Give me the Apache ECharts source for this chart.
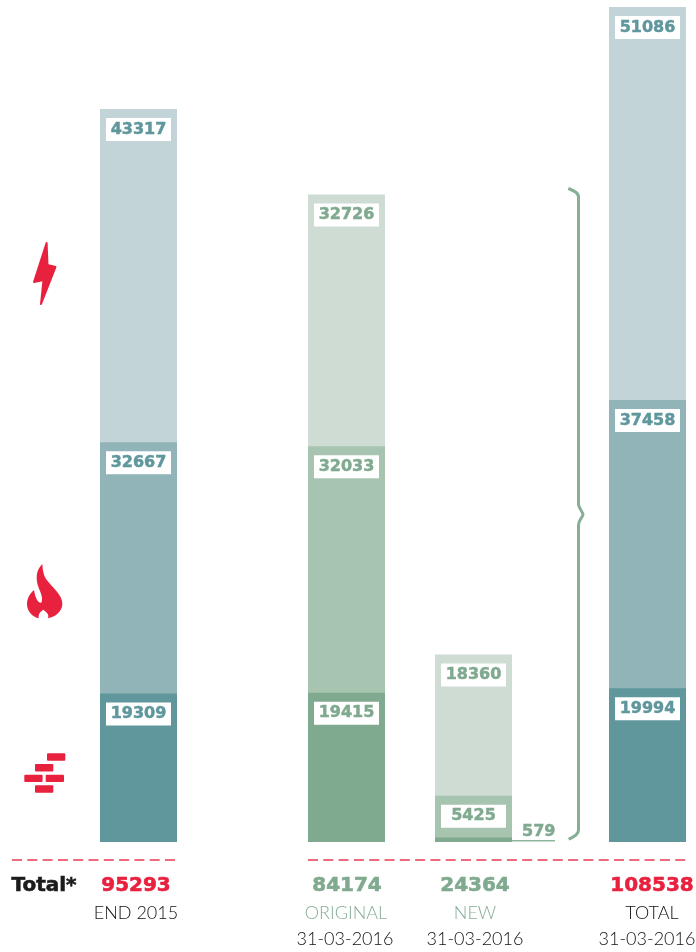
<!DOCTYPE html>
<html>
<head>
<meta charset="utf-8">
<style>
html, body { margin: 0; padding: 0; background: #fff; }
#chart { width: 696px; height: 952px; }
</style>
<script src="https://cdn.jsdelivr.net/npm/echarts@6/dist/echarts.min.js"></script>
</head>
<body>
<div id="chart"></div>
<script>
// centre of each column on the x axis, the axis runs 0-696
var columnX = [138.5, 346.5, 473.5, 647.5];

// stacked bottom to top
var coalValues = [19309, 19415, 579, 19994];
var gasValues = [32667, 32033, 5425, 37458];
var powerValues = [43317, 32726, 18360, 51086];

var tealShades = ['#5f979d', '#91b4b8', '#c2d4d8'];
var greenShades = ['#80aa8f', '#a7c4b1', '#cedcd3'];
var columnShades = [tealShades, greenShades, greenShades, tealShades];
var labelColors = ['#5f979d', '#80aa8f', '#80aa8f', '#5f979d'];

var totals = ['95293', '84174', '24364', '108538'];
var totalColors = ['#e8213f', '#80aa8f', '#80aa8f', '#e8213f'];
var totalX = [136, 347, 475, 652];
var subtitles = ['END 2015', 'ORIGINAL', 'NEW', 'TOTAL'];
var subtitleColors = ['#111', '#86ad95', '#86ad95', '#111'];
var subtitleX = [136, 346, 475, 652];
var dates = ['', '31-03-2016', '31-03-2016', '31-03-2016'];
var dateX = [0, 345, 475, 647];

var leaderX = [512, 555];
var leaderY = [150, 150];

var RED = '#e8213f';
var numberFont = '"DejaVu Sans"';
var lightFont = 'Lato';

// graphic component has no plain path type, so register the two outlines
echarts.graphic.registerShape('flameIcon', echarts.graphic.extendPath(
    'M97 27C78 45 76 72 86 98C92 113 100 128 94 143C85 146 76 130 72 105C56 118 48 138 52 156C56 174 70 186 86 190C84 178 90 170 100 164C110 172 118 178 114 190C136 186 156 170 157 148C158 118 128 100 108 72C100 60 98 44 97 27Z', {}));
echarts.graphic.registerShape('braceLine', echarts.graphic.extendPath(
    'M568.3 188.5C573 190.5 578.5 192 578.5 197L578.5 504C578.5 508 583 512 583 514.5C583 517 578.5 520 578.5 525L578.5 830C578.5 835 573 837 568.7 839.3', {}));

// stack option does not stack on a value x axis, so each layer is a bar
// up to its running total and the lower layers are painted over it
function buildSeries(name, layers, shadeIndex) {
    var data = [];
    for (var i = 0; i < columnX.length; i++) {
        var top = 0;
        for (var k = 0; k <= shadeIndex; k++) {
            top += layers[k][i];
        }
        var own = layers[shadeIndex][i];
        var item = {
            value: [columnX[i], top],
            own: own,
            itemStyle: { color: columnShades[i][shadeIndex] },
            label: {
                color: labelColors[i],
                textBorderColor: labelColors[i],
                textBorderWidth: 0.5
            }
        };
        // too thin to hold its own label, goes on the leader line
        if (own < 1000) {
            item.label = {
                position: 'right',
                distance: 10,
                offset: [0, -8],
                color: labelColors[i],
                textBorderColor: labelColors[i],
                textBorderWidth: 0.5,
                backgroundColor: 'transparent',
                width: null,
                align: 'left'
            };
        }
        data.push(item);
    }
    return {
        name: name,
        type: 'bar',
        barGap: '-100%',
        barWidth: 77,
        data: data,
        label: {
            show: true,
            position: 'insideTop',
            distance: 9,
            formatter: function (params) {
                return params.data.own;
            },
            fontFamily: numberFont,
            fontWeight: 'bold',
            fontSize: 16,
            width: 65,
            height: 23,
            lineHeight: 23,
            align: 'center',
            backgroundColor: '#fff'
        }
    };
}

function textEl(str, x, y, size, color, font, weight, thicken) {
    return {
        type: 'text',
        x: x,
        y: y,
        style: {
            text: str,
            fill: color,
            stroke: thicken ? color : null,
            lineWidth: thicken || 0,
            font: weight + ' ' + size + 'px ' + font,
            textAlign: 'center',
            textVerticalAlign: 'middle'
        }
    };
}

function dashEl(x1, x2) {
    return {
        type: 'line',
        shape: { x1: x1, y1: 860, x2: x2, y2: 860 },
        style: { stroke: '#ee6a80', lineWidth: 2, lineDash: [10, 5.3] }
    };
}

function brickEl(x, y) {
    return {
        type: 'rect',
        shape: { x: x, y: y, width: 18.3, height: 7.4, r: 1 },
        style: { fill: RED }
    };
}

var graphics = [
    dashEl(12, 177),
    dashEl(308, 686),
    textEl('Total*', 44, 886, 20, '#1c1c1c', numberFont, 'bold', 0.6),
    // lightning bolt
    {
        type: 'polygon',
        shape: { points: [[46.6, 243], [34, 282], [43.5, 280], [41, 304], [55.5, 267], [47.5, 265]] },
        style: { fill: RED, stroke: RED, lineWidth: 2, lineJoin: 'round' }
    },
    // flame, outline was taken at 3x
    {
        type: 'flameIcon',
        x: 10,
        y: 555,
        scaleX: 1 / 3,
        scaleY: 1 / 3,
        style: { fill: RED }
    },
    brickEl(47, 753.3),
    brickEl(35, 764),
    brickEl(24.3, 774.7),
    brickEl(45.7, 774.7),
    brickEl(35, 785.3),
    // brace from the two middle columns to the total
    {
        type: 'braceLine',
        style: { fill: 'none', stroke: '#86b096', lineWidth: 3 }
    }
];

for (var i = 0; i < totals.length; i++) {
    graphics.push(textEl(totals[i], totalX[i], 886, 20, totalColors[i], numberFont, 'bold', 0.6));
    graphics.push(textEl(subtitles[i], subtitleX[i], 913, 18, subtitleColors[i], lightFont, '300'));
    if (dates[i]) {
        graphics.push(textEl(dates[i], dateX[i], 939, 18, '#111', lightFont, '300'));
    }
}

var leaderData = [];
for (var j = 0; j < leaderX.length; j++) {
    leaderData.push([leaderX[j], leaderY[j]]);
}

var layers = [coalValues, gasValues, powerValues];

var option = {
    animation: false,
    backgroundColor: '#fff',
    grid: { left: 0, right: 0, top: 7, bottom: 110 },
    xAxis: { type: 'value', min: 0, max: 696, show: false },
    yAxis: { type: 'value', min: 0, max: 108538, show: false },
    series: [
        buildSeries('Power', layers, 2),
        buildSeries('Gas', layers, 1),
        buildSeries('Coal', layers, 0),
        {
            name: 'leader',
            type: 'line',
            data: leaderData,
            symbol: 'none',
            lineStyle: { color: '#8fb39c', width: 1.5 }
        }
    ],
    graphic: graphics
};

var myChart = echarts.init(document.getElementById('chart'));
myChart.setOption(option);
</script>
</body>
</html>
